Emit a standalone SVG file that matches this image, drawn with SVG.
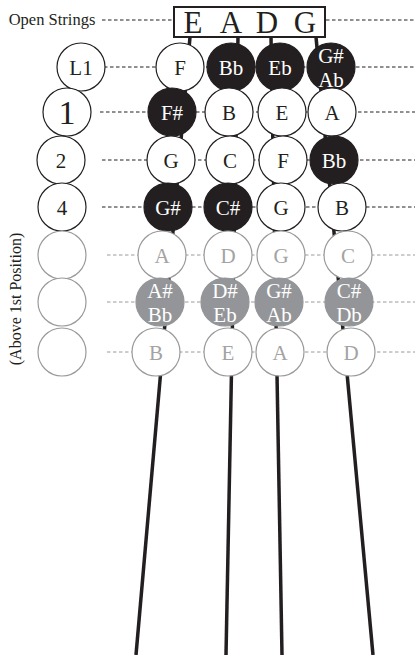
<svg xmlns="http://www.w3.org/2000/svg" width="415" height="655" viewBox="0 0 415 655">
<style>
text{font-family:"Liberation Serif","Times New Roman",serif;text-anchor:middle}
.c{fill:#fff;stroke:#231f20;stroke-width:1.2}
.b{fill:#231f20;stroke:#231f20;stroke-width:1.2}
.g{fill:#fff;stroke:#9a9a9a;stroke-width:1.2}
.gf{fill:#939598;stroke:#939598;stroke-width:1.2}
.t{font-size:21px;fill:#231f20}
.tw{font-size:21px;fill:#fff}
.tg{font-size:21px;fill:#a3a3a3}
.d{stroke:#231f20;stroke-width:1;stroke-dasharray:3.5 2.5;fill:none}
.dg{stroke:#9a9a9a;stroke-width:1;stroke-dasharray:3.5 2.5;fill:none}
.s{stroke:#231f20;stroke-width:3.5;fill:none}
</style>
<g id="connectors">
<line class="d" x1="102" y1="20" x2="173" y2="20"/>
<line class="d" x1="326" y1="20" x2="415" y2="20"/>
<line class="d" x1="104" y1="67" x2="415" y2="67"/>
<line class="d" x1="100" y1="112" x2="415" y2="112"/>
<line class="d" x1="102" y1="160" x2="415" y2="160"/>
<line class="d" x1="102" y1="207" x2="415" y2="207"/>
<line class="dg" x1="107" y1="255" x2="415" y2="255"/>
<line class="dg" x1="107" y1="302" x2="415" y2="302"/>
<line class="dg" x1="107" y1="352" x2="415" y2="352"/>
<line class="s" x1="190" y1="37" x2="136" y2="655"/>
<line class="s" x1="238" y1="37" x2="226" y2="655"/>
<line class="s" x1="271" y1="37" x2="282" y2="655"/>
<line class="s" x1="316" y1="37" x2="373" y2="655"/>
</g>
<g id="open-strings-label"><text x="52" y="25" style="font-size:16.5px;fill:#231f20">Open Strings</text></g>
<g id="open-strings"><rect x="174" y="7" width="151" height="30" fill="#fff" stroke="#231f20" stroke-width="2"/><text x="193" y="33" style="font-size:31px;fill:#231f20">E</text><text x="231" y="33" style="font-size:31px;fill:#231f20">A</text><text x="267" y="33" style="font-size:31px;fill:#231f20">D</text><text x="305" y="33" style="font-size:31px;fill:#231f20">G</text></g>
<g id="position-label"><text transform="translate(21,299) rotate(-90)" style="font-size:16px;fill:#231f20">(Above 1st Position)</text></g>
<g id="f-L1"><circle class="c" cx="81" cy="67" r="24"/><text class="t" x="81" y="74.5">L1</text></g>
<g id="f-1"><circle class="c" cx="67" cy="112" r="24"/><text x="67" y="124" style="font-size:34px;fill:#231f20">1</text></g>
<g id="f-2"><circle class="c" cx="61" cy="160" r="24"/><text class="t" x="61" y="167.5">2</text></g>
<g id="f-4"><circle class="c" cx="62" cy="207" r="24"/><text class="t" x="62" y="214.5">4</text></g>
<g id="f-5"><circle class="g" cx="62" cy="255" r="24"/></g>
<g id="f-6"><circle class="g" cx="62" cy="302" r="24"/></g>
<g id="f-7"><circle class="g" cx="62" cy="352" r="24"/></g>
<g id="n-L1-E"><circle class="c" cx="180" cy="67" r="24"/><text class="t" x="180" y="74.5">F</text></g>
<g id="n-L1-A"><circle class="b" cx="231" cy="67" r="24"/><text class="tw" x="231" y="74.5">Bb</text></g>
<g id="n-L1-D"><circle class="b" cx="280" cy="67" r="24"/><text class="tw" x="280" y="74.5">Eb</text></g>
<g id="n-L1-G"><circle class="b" cx="331" cy="67" r="24"/><text class="tw" x="331" y="63">G#</text><text class="tw" x="331" y="87">Ab</text></g>
<g id="n-1-E"><circle class="b" cx="172" cy="112" r="24"/><text class="tw" x="172" y="119.5">F#</text></g>
<g id="n-1-A"><circle class="c" cx="229" cy="112" r="24"/><text class="t" x="229" y="119.5">B</text></g>
<g id="n-1-D"><circle class="c" cx="282" cy="112" r="24"/><text class="t" x="282" y="119.5">E</text></g>
<g id="n-1-G"><circle class="c" cx="332" cy="112" r="24"/><text class="t" x="332" y="119.5">A</text></g>
<g id="n-2-E"><circle class="c" cx="171" cy="160" r="24"/><text class="t" x="171" y="167.5">G</text></g>
<g id="n-2-A"><circle class="c" cx="230" cy="160" r="24"/><text class="t" x="230" y="167.5">C</text></g>
<g id="n-2-D"><circle class="c" cx="283" cy="160" r="24"/><text class="t" x="283" y="167.5">F</text></g>
<g id="n-2-G"><circle class="b" cx="334" cy="160" r="24"/><text class="tw" x="334" y="167.5">Bb</text></g>
<g id="n-4-E"><circle class="b" cx="168" cy="207" r="24"/><text class="tw" x="168" y="214.5">G#</text></g>
<g id="n-4-A"><circle class="b" cx="228" cy="207" r="24"/><text class="tw" x="228" y="214.5">C#</text></g>
<g id="n-4-D"><circle class="c" cx="281" cy="207" r="24"/><text class="t" x="281" y="214.5">G</text></g>
<g id="n-4-G"><circle class="c" cx="342" cy="207" r="24"/><text class="t" x="342" y="214.5">B</text></g>
<g id="n-5-E"><circle class="g" cx="162" cy="255" r="24"/><text class="tg" x="162" y="262.5">A</text></g>
<g id="n-5-A"><circle class="g" cx="228" cy="255" r="24"/><text class="tg" x="228" y="262.5">D</text></g>
<g id="n-5-D"><circle class="g" cx="281" cy="255" r="24"/><text class="tg" x="281" y="262.5">G</text></g>
<g id="n-5-G"><circle class="g" cx="348" cy="255" r="24"/><text class="tg" x="348" y="262.5">C</text></g>
<g id="n-6-E"><circle class="gf" cx="160" cy="302" r="24"/><text class="tw" x="160" y="298">A#</text><text class="tw" x="160" y="322">Bb</text></g>
<g id="n-6-A"><circle class="gf" cx="225" cy="302" r="24"/><text class="tw" x="225" y="298">D#</text><text class="tw" x="225" y="322">Eb</text></g>
<g id="n-6-D"><circle class="gf" cx="279" cy="302" r="24"/><text class="tw" x="279" y="298">G#</text><text class="tw" x="279" y="322">Ab</text></g>
<g id="n-6-G"><circle class="gf" cx="349" cy="302" r="24"/><text class="tw" x="349" y="298">C#</text><text class="tw" x="349" y="322">Db</text></g>
<g id="n-7-E"><circle class="g" cx="156" cy="352" r="24"/><text class="tg" x="156" y="359.5">B</text></g>
<g id="n-7-A"><circle class="g" cx="228" cy="352" r="24"/><text class="tg" x="228" y="359.5">E</text></g>
<g id="n-7-D"><circle class="g" cx="280" cy="352" r="24"/><text class="tg" x="280" y="359.5">A</text></g>
<g id="n-7-G"><circle class="g" cx="351" cy="352" r="24"/><text class="tg" x="351" y="359.5">D</text></g>
</svg>
